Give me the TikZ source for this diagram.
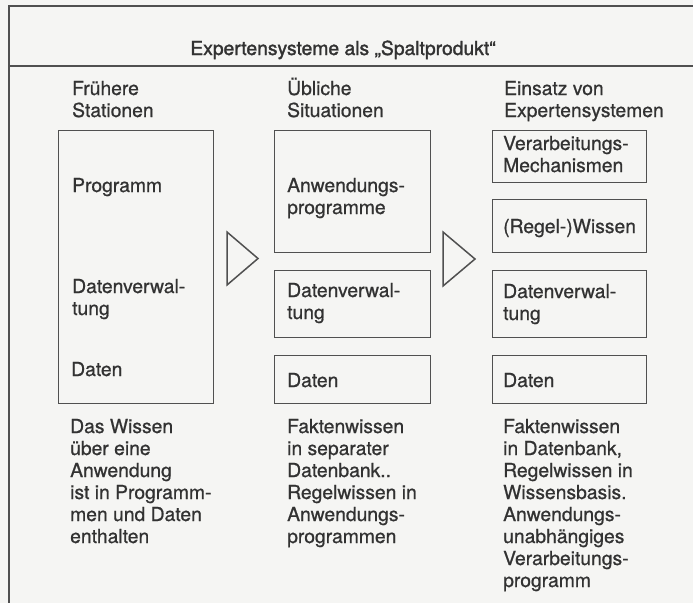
\documentclass[tikz,border=0pt]{standalone}
\usepackage{fontspec}
\setmainfont{TeX Gyre Heros}[FakeBold=0.8]
\newfontfamily\titlefont{TeX Gyre Heros}[FakeBold=1.6]
\definecolor{bg}{RGB}{245,245,243}
\definecolor{ink}{RGB}{50,50,50}
\definecolor{linec}{RGB}{80,80,80}
\newcommand\mylines[1]{\begin{tabular}[t]{@{}l@{}}#1\end{tabular}}
\begin{document}
\begin{tikzpicture}[x=1pt,y=-1pt,
  frame/.style={draw=linec,line width=1.4pt},
  box/.style={draw=linec,line width=1.2pt,anchor=north west,inner sep=0pt},
  tri/.style={draw=linec,line width=1.5pt,line join=miter},
  txt/.style={anchor=base west,inner sep=0pt,text=ink,font=\fontsize{19.3}{22}\selectfont},
  title/.style={anchor=base,inner sep=0pt,text=ink,font=\titlefont\fontsize{19.3}{22}\selectfont}]
\path[use as bounding box,fill=bg] (0,0) rectangle (693,603);
% frame
\coordinate (ftr) at (693,6);
\coordinate (ftl) at (9,6);
\coordinate (fbl) at (9,603);
\coordinate (sl) at (9,66);
\coordinate (sr) at (693,66);
\draw[frame] (ftr) -- (ftl) -- (fbl);
\draw[frame] (sl) -- (sr);
\node[title] (t) at (343,55) {Expertensysteme als „Spaltprodukt“};
% headers
\node[txt] (h1) at (72,95) {\mylines{Frühere\\Stationen}};
\node[txt] (h2) at (287,95) {\mylines{Übliche\\Situationen}};
\node[txt] (h3) at (504,95) {\mylines{Einsatz von\\Expertensystemen}};
% left column
\node[box,minimum width=155pt,minimum height=273pt] (L) at (58,130) {};
\node[txt] (L1) at (72,192) {Programm};
\node[txt] (L2) at (72,293) {\mylines{Datenverwal-\\tung}};
\node[txt] (L3) at (71,376) {Daten};
% middle column
\node[box,minimum width=156pt,minimum height=122pt] (M1) at (274,130) {};
\node[box,minimum width=156pt,minimum height=67pt] (M2) at (274,270) {};
\node[box,minimum width=156pt,minimum height=48pt] (M3) at (274,355) {};
\node[txt] (M1t) at (287,192) {\mylines{Anwendungs-\\programme}};
\node[txt] (M2t) at (287,297) {\mylines{Datenverwal-\\tung}};
\node[txt] (M3t) at (287,387) {Daten};
% right column
\node[box,minimum width=154pt,minimum height=52pt] (R1) at (492,130) {};
\node[box,minimum width=154pt,minimum height=53pt] (R2) at (492,199) {};
\node[box,minimum width=154pt,minimum height=67pt] (R3) at (492,270) {};
\node[box,minimum width=154pt,minimum height=48pt] (R4) at (492,355) {};
\node[txt] (R1t) at (503,150) {\mylines{Verarbeitungs-\\Mechanismen}};
\node[txt] (R2t) at (503,233) {(Regel-)Wissen};
\node[txt] (R3t) at (503,298) {\mylines{Datenverwal-\\tung}};
\node[txt] (R4t) at (503,387) {Daten};
% triangles
\draw[tri] (227,232) -- (258,258.5) -- (227,285) -- cycle;
\draw[tri] (443,232) -- (475,259) -- (443,286) -- cycle;
% bottom texts
\node[txt] (B1) at (70,433) {\mylines{Das Wissen\\über eine\\Anwendung\\ist in Programm-\\men und Daten\\enthalten}};
\node[txt] (B2) at (287,433) {\mylines{Faktenwissen\\in separater\\Datenbank..\\Regelwissen in\\Anwendungs-\\programmen}};
\node[txt] (B3) at (503,433) {\mylines{Faktenwissen\\in Datenbank,\\Regelwissen in\\Wissensbasis.\\Anwendungs-\\unabhängiges\\Verarbeitungs-\\programm}};
\end{tikzpicture}
\end{document}
